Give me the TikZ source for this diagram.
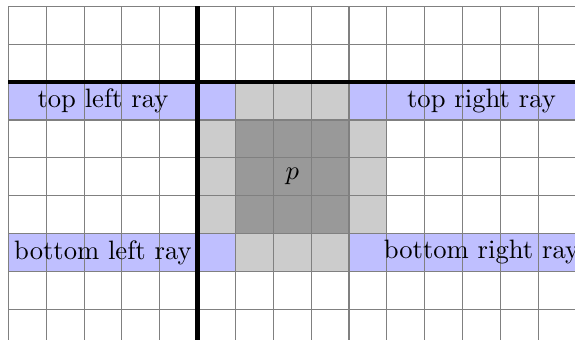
\documentclass[tikz,border=0pt]{standalone}
\usepackage{amsmath}
\usepackage{tikz}

\begin{document}
\begin{tikzpicture}[x=0.5cm,y=0.5cm,
        ray/.style={fill=blue!25},
        rim/.style={fill=gray!40},
        core/.style={fill=gray!80},
        axis/.style={ultra thick}]
        \clip (-5.22,-6.79) rectangle (9.97,2.17);

        % rays
        \fill[ray] (-5,-1) rectangle (10,0);
        \fill[ray] (-5,-5) rectangle (10,-4);

        % neighbourhood of p
        \fill[rim] (1,-1) rectangle (4,0);
        \fill[rim] (1,-5) rectangle (4,-4);
        \fill[rim] (0,-4) rectangle (1,-1);
        \fill[rim] (4,-4) rectangle (5,-1);
        \fill[core] (1,-4) rectangle (4,-1);

        \draw[gray, thin, step=0.5cm] (-5,-7) grid (10,2);

        \coordinate (top) at (0,2);
        \coordinate (bottom) at (0,-7);
        \coordinate (left) at (-5,0);
        \coordinate (right) at (10,0);
        \draw[axis] (top) -- (bottom);
        \draw[axis] (left) -- (right);

        \node (p) at (2.5,-2.5) {$p$};
        \node (tl) at (-2.5,-0.5) {top left ray};
        \node (tr) at (7.5,-0.5) {top right ray};
        \node (bl) at (-2.5,-4.5) {bottom left ray};
        \node (br) at (7.5,-4.5) {bottom right ray};
\end{tikzpicture}
\end{document}
